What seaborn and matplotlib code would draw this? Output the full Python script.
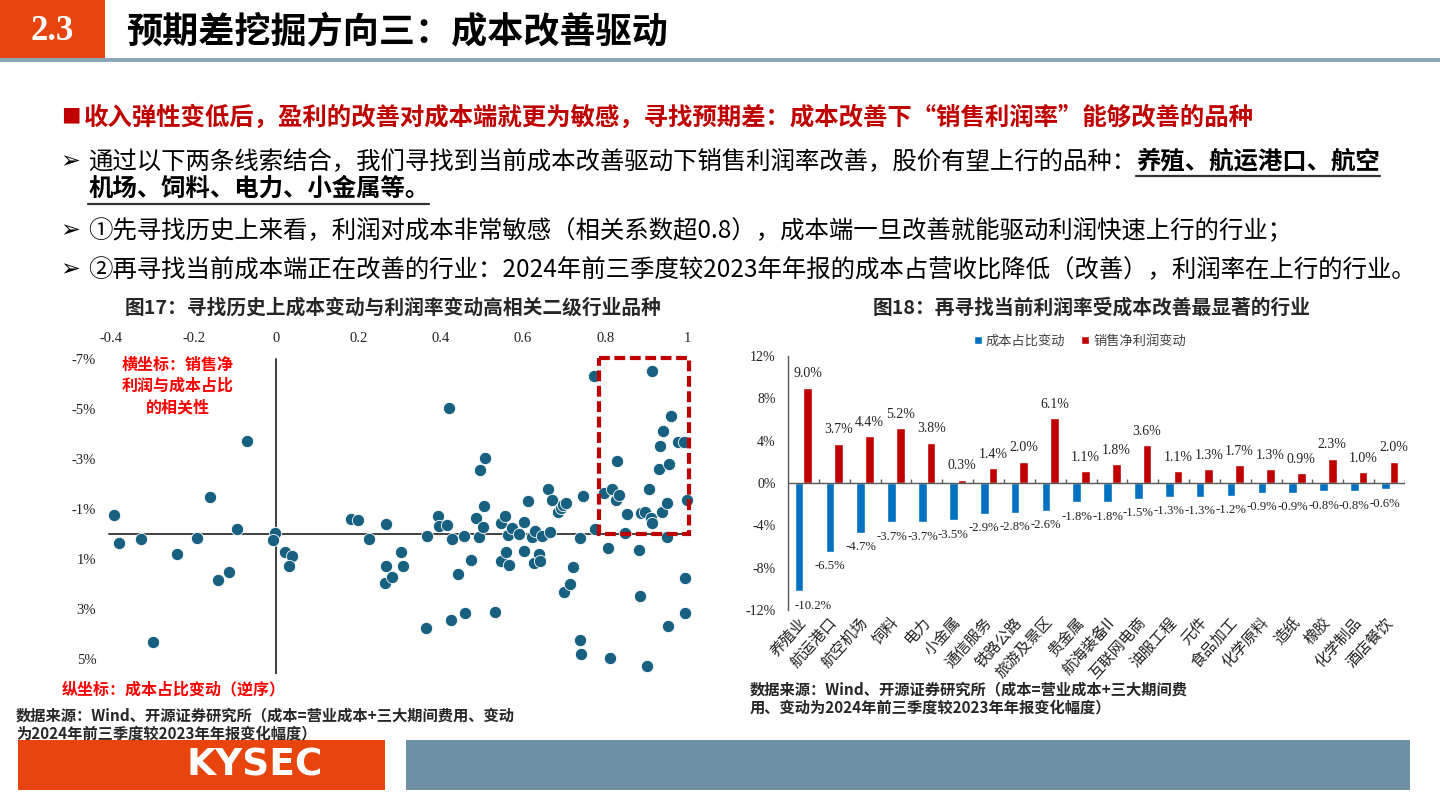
import matplotlib
matplotlib.use('Agg')
import matplotlib.pyplot as plt
import seaborn as sns
import numpy as np
import pandas as pd
from matplotlib.patches import Rectangle, Patch
from matplotlib.lines import Line2D

# ---------------- data ----------------
# Fig.17 scatter: x = correlation of net margin vs cost share, y = cost share change (%)
corr_x = [-0.393, -0.382, -0.329, -0.241, -0.191, -0.160, -0.142, -0.113, -0.095, -0.070,
          -0.299, -0.002, -0.008, 0.022, 0.040, 0.032, 0.182, 0.200, 0.226, 0.268,
          0.268, 0.264, 0.282, 0.305, 0.309, 0.366, 0.365, 0.393, 0.397, 0.415,
          0.420, 0.428, 0.426, 0.442, 0.456, 0.459, 0.473, 0.487, 0.493, 0.496,
          0.502, 0.506, 0.508, 0.533, 0.547, 0.546, 0.557, 0.558, 0.564, 0.567,
          0.573, 0.590, 0.603, 0.603, 0.612, 0.621, 0.629, 0.626, 0.639, 0.642,
          0.646, 0.662, 0.666, 0.670, 0.685, 0.693, 0.698, 0.705, 0.701, 0.714,
          0.722, 0.739, 0.745, 0.739, 0.741, 0.772, 0.775, 0.798, 0.806, 0.811,
          0.817, 0.829, 0.827, 0.833, 0.847, 0.854, 0.883, 0.885, 0.888, 0.897,
          0.901, 0.906, 0.911, 0.915, 0.915, 0.930, 0.933, 0.937, 0.940, 0.951,
          0.951, 0.953, 0.955, 0.961, 0.978, 0.992, 0.994, 0.994, 1.000]
cost_chg_y = [-0.76, 0.35, 0.20, 0.80, 0.16, -1.50, 1.83, 1.50, -0.20, -3.72,
              4.33, -0.04, 0.24, 0.72, 0.87, 1.27, -0.61, -0.56, 0.20, -0.41,
              1.29, 1.96, 1.73, 0.72, 1.27, 0.09, 3.76, -0.73, -0.32, -0.35,
              -5.05, 0.20, 3.44, 1.61, 0.09, 3.15, 1.04, -0.64, 0.13, -2.56,
              -0.28, -1.12, -3.04, 3.12, -0.44, 1.09, -0.73, 0.73, 0.05, 1.23,
              -0.25, 0.00, -0.48, 0.67, -1.31, 0.11, -0.13, 1.15, 0.80, 1.09,
              0.07, -1.80, -0.09, -1.35, -0.87, -1.05, -1.16, -1.23, 2.31, 1.99,
              1.32, 0.16, -1.51, 4.23, 4.81, -6.31, -0.21, -1.63, 0.55, 4.97,
              -1.79, -2.92, -1.35, -1.57, -0.05, -0.80, 0.64, 2.49, -0.84, -0.87,
              5.27, -1.79, -0.65, -6.53, -0.44, -2.60, -3.52, -0.88, -4.13, -1.24,
              0.13, 3.67, -2.79, -4.71, -3.68, -3.68, 1.76, 3.15, -1.36]
scatter_xticks = [-0.4, -0.2, 0.0, 0.2, 0.4, 0.6, 0.8, 1.0]
scatter_xticklabels = ['-0.4', '-0.2', '0', '0.2', '0.4', '0.6', '0.8', '1']
scatter_yticks = [-7, -5, -3, -1, 1, 3, 5]
scatter_yticklabels = ['-7%', '-5%', '-3%', '-1%', '1%', '3%', '5%']

# Fig.18 bars
industries = ['养殖业', '航运港口', '航空机场', '饲料', '电力', '小金属', '通信服务', '铁路公路',
              '旅游及景区', '贵金属', '航海装备II', '互联网电商', '油服工程', '元件', '食品加工',
              '化学原料', '造纸', '橡胶', '化学制品', '酒店餐饮']
cost_share_chg = [-10.2, -6.5, -4.7, -3.7, -3.7, -3.5, -2.9, -2.8, -2.6, -1.8,
                  -1.8, -1.5, -1.3, -1.3, -1.2, -0.9, -0.9, -0.8, -0.8, -0.6]
net_margin_chg = [9.0, 3.7, 4.4, 5.2, 3.8, 0.3, 1.4, 2.0, 6.1, 1.1,
                  1.8, 3.6, 1.1, 1.3, 1.7, 1.3, 0.9, 2.3, 1.0, 2.0]
series_names = ['成本占比变动', '销售净利润变动']
bar_yticks = [-12, -8, -4, 0, 4, 8, 12]

# ---------------- style ----------------
sns.set_theme(style='white')
plt.rcParams['font.family'] = ['Noto Sans CJK SC', 'DejaVu Sans']
plt.rcParams['axes.unicode_minus'] = False

W, H = 1440, 810
fig = plt.figure(figsize=(14.4, 8.1), dpi=100)
fig.patch.set_facecolor('white')
renderer = fig.canvas.get_renderer()

def fx(x):
    return x / W

def fy(y):
    return 1 - y / H

def add_rect(x0, y0, x1, y1, color):
    fig.add_artist(Rectangle((fx(x0), fy(y1)), (x1 - x0) / W, (y1 - y0) / H,
                             transform=fig.transFigure, facecolor=color,
                             edgecolor='none', zorder=0))

def txt(x, y, s, **kw):
    kw.setdefault('va', 'center')
    kw.setdefault('ha', 'left')
    return fig.text(fx(x), fy(y), s, **kw)

def underline(t, gap=3, color='#333333'):
    bb = t.get_window_extent(renderer=renderer)
    yb = bb.y0 - gap
    fig.add_artist(Line2D([bb.x0 / W, bb.x1 / W], [yb / H, yb / H],
                          transform=fig.transFigure, color=color, lw=1.6))

RED = '#C00000'
ARROW = ['DejaVu Sans']
BODY = 17.6

# ---------------- header ----------------
add_rect(0, 0, 105, 58, '#E8450E')
txt(52, 31, '2.3', color='white', fontsize=25, fontweight='bold',
    family='Liberation Serif', ha='center')
txt(126, 33, '预期差挖掘方向三：成本改善驱动', fontsize=26, fontweight='bold', color='black')
add_rect(0, 58, 1440, 62, '#8DA7B8')

# ---------------- bullet text ----------------
txt(61, 117, '■', color=RED, fontsize=14)
txt(84, 117, '收入弹性变低后，盈利的改善对成本端就更为敏感，寻找预期差：成本改善下“销售利润率”能够改善的品种',
    color=RED, fontsize=BODY, fontweight='bold')

txt(60, 161, '➢', family=ARROW, fontsize=17, fontweight='bold', color='black')
t_a = txt(88, 161, '通过以下两条线索结合，我们寻找到当前成本改善驱动下销售利润率改善，股价有望上行的品种：',
          fontsize=BODY, color='black')
bb = t_a.get_window_extent(renderer=renderer)
t_b = fig.text(bb.x1 / W, fy(161), '养殖、航运港口、航空', fontsize=BODY, fontweight='bold',
               color='black', va='center', ha='left')
underline(t_b)
t_c = txt(88, 189, '机场、饲料、电力、小金属等。', fontsize=BODY, fontweight='bold', color='black')
underline(t_c)

txt(60, 230, '➢', family=ARROW, fontsize=17, fontweight='bold', color='black')
txt(88, 230, '①先寻找历史上来看，利润对成本非常敏感（相关系数超0.8），成本端一旦改善就能驱动利润快速上行的行业；',
    fontsize=BODY, color='black', family=['Noto Sans CJK SC', 'DejaVu Sans'])
txt(60, 269, '➢', family=ARROW, fontsize=17, fontweight='bold', color='black')
txt(88, 269, '②再寻找当前成本端正在改善的行业：2024年前三季度较2023年年报的成本占营收比降低（改善），利润率在上行的行业。',
    fontsize=BODY, color='black', family=['Noto Sans CJK SC', 'DejaVu Sans'])

# ---------------- chart titles ----------------
txt(393, 308, '图17：寻找历史上成本变动与利润率变动高相关二级行业品种', fontsize=14.2,
    fontweight='bold', ha='center')
txt(1092, 308, '图18：再寻找当前利润率受成本改善最显著的行业', fontsize=14.2,
    fontweight='bold', ha='center')

# ---------------- Fig.17 scatter ----------------
ax1 = fig.add_axes([fx(99), fy(674), 596.7 / W, 327.5 / H])
ax1.set_facecolor('none')
sns.scatterplot(x=corr_x, y=cost_chg_y, ax=ax1, s=78, color='#17607F',
                edgecolor='white', linewidth=0.6, zorder=3, legend=False)
ax1.set_xlim(-0.43, 1.02)
ax1.set_ylim(5.6, -7.5)
for sp in ax1.spines.values():
    sp.set_visible(False)
ax1.plot([-0.405, 1.0], [0, 0], color='#404040', lw=1.4, zorder=2)
ax1.plot([0, 0], [-7.0, 5.6], color='#404040', lw=1.4, zorder=2)
ax1.xaxis.tick_top()
ax1.set_xticks(scatter_xticks)
ax1.set_xticklabels(scatter_xticklabels, fontfamily='Liberation Serif', fontsize=10.5)
ax1.set_yticks(scatter_yticks)
ax1.set_yticklabels(scatter_yticklabels, fontfamily='Liberation Serif', fontsize=10.5)
ax1.tick_params(axis='x', length=0, pad=1, colors='#222222')
ax1.tick_params(axis='y', length=0, pad=2, colors='#222222')
ax1.grid(False)
ax1.add_patch(Rectangle((0.785, -7.05), 0.219, 7.05, fill=False, edgecolor=RED,
                        lw=3.0, ls=(0, (2.6, 1.1)), zorder=4))

txt(178, 365, '横坐标：销售净', color='#FF0000', fontsize=11.5, fontweight='bold', ha='center')
txt(178, 386, '利润与成本占比', color='#FF0000', fontsize=11.5, fontweight='bold', ha='center')
txt(178, 407, '的相关性', color='#FF0000', fontsize=11.5, fontweight='bold', ha='center')
txt(62, 689, '纵坐标：成本占比变动（逆序）', color='#FF0000', fontsize=11.5, fontweight='bold')

txt(16, 715, '数据来源：Wind、开源证券研究所（成本=营业成本+三大期间费用、变动',
    fontsize=11, fontweight='bold')
txt(16, 733, '为2024年前三季度较2023年年报变化幅度）', fontsize=11, fontweight='bold')

# ---------------- Fig.18 bars ----------------
df = pd.DataFrame({
    'industry': industries * 2,
    'value': cost_share_chg + net_margin_chg,
    'series': [series_names[0]] * len(industries) + [series_names[1]] * len(industries),
})
BLUE, BRED = '#0070C0', '#C00000'
ax2 = fig.add_axes([fx(788), fy(610), 617 / W, 254 / H])
ax2.set_facecolor('none')
sns.barplot(data=df, x='industry', y='value', hue='series', order=industries,
            hue_order=series_names, palette=[BLUE, BRED], width=0.56, errorbar=None,
            saturation=1, ax=ax2, legend=False, zorder=3)
ax2.set_xlim(-0.5, len(industries) - 0.5)
ax2.set_ylim(-12, 12)
for k in ['top', 'right', 'bottom']:
    ax2.spines[k].set_visible(False)
ax2.spines['left'].set_color('#595959')
ax2.spines['left'].set_linewidth(1.0)
ax2.axhline(0, color='#595959', lw=1.0, zorder=4)
ax2.vlines([i + 0.5 for i in range(len(industries))], 0, 0.4, color='#595959', lw=1.0, zorder=4)
ax2.set_yticks(bar_yticks)
ax2.set_yticklabels([f'{v}%' for v in bar_yticks], fontfamily='Liberation Serif', fontsize=10)
ax2.tick_params(axis='y', direction='in', length=4, color='#595959', pad=9, colors='#222222')
ax2.set_xticks(range(len(industries)))
ax2.set_xticklabels(industries, rotation=48, ha='right', rotation_mode='anchor',
                    va='center', fontsize=11)
ax2.tick_params(axis='x', length=0, pad=7, colors='#222222')
ax2.set_xlabel('')
ax2.set_ylabel('')
ax2.grid(False)

for i, (c, p) in enumerate(zip(cost_share_chg, net_margin_chg)):
    ax2.annotate(f'{c:.1f}%', (max(i - 0.14, 0.3), c), xytext=(0, -10.5),
                 textcoords='offset points', ha='center', va='center',
                 fontsize=9.2, family='Liberation Serif', color='#222222')
    ax2.annotate(f'{p:.1f}%', (i + 0.14, p), xytext=(0, 10),
                 textcoords='offset points', ha='center', va='center',
                 fontsize=10, family='Liberation Serif', color='#222222')

handles = [Patch(facecolor=BLUE), Patch(facecolor=BRED)]
ax2.legend(handles, series_names, ncol=2, loc='center', bbox_to_anchor=(0.473, 1.059),
           frameon=False, handlelength=0.6, handleheight=0.6, handletextpad=0.3,
           columnspacing=1.2, prop={'size': 9.5}, labelcolor='#404040')

txt(750, 689, '数据来源：Wind、开源证券研究所（成本=营业成本+三大期间费',
    fontsize=11, fontweight='bold')
txt(750, 707, '用、变动为2024年前三季度较2023年年报变化幅度）', fontsize=11, fontweight='bold')

# ---------------- footer ----------------
add_rect(18, 740, 385, 790, '#E8450E')
add_rect(406, 740, 1410, 790, '#6E90A3')
txt(255, 766, 'KYSEC', color='white', fontsize=27, fontweight='bold',
    family='DejaVu Sans', ha='center')

fig.savefig('out.png', dpi=100, facecolor='white')
